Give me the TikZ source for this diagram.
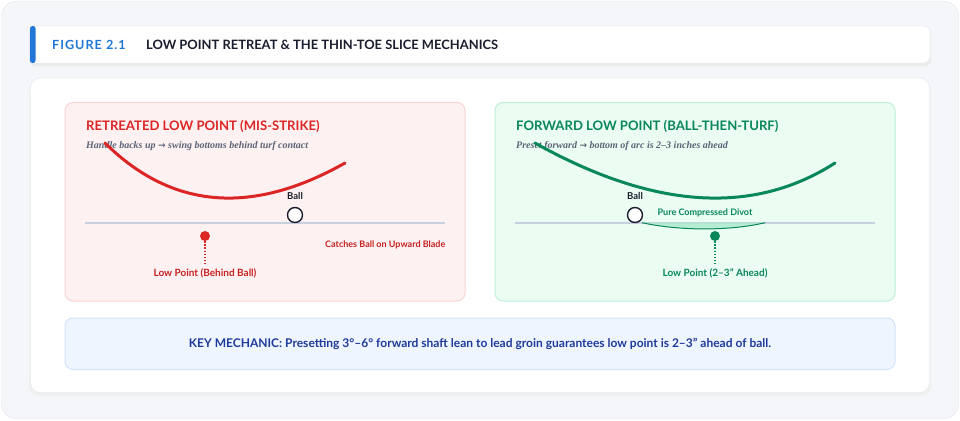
\documentclass[tikz,border=0pt]{standalone}
\usepackage{fontspec}
\setmainfont{Lato}
\newfontfamily\subfont{Liberation Serif}
\newfontfamily\arrowfont{DejaVu Sans}
\newfontfamily\figfont[LetterSpace=8]{Lato}
\newcommand{\subarrow}{{\arrowfont\fontsize{9}{12}\selectfont →}}
\definecolor{framebg}{HTML}{F5F6FA}
\definecolor{frameline}{HTML}{E2E5EC}
\definecolor{cardline}{HTML}{E3E7EE}
\definecolor{accent}{HTML}{1F77D6}
\definecolor{inkdark}{HTML}{1A1D2E}
\definecolor{redfill}{HTML}{FEF1F1}
\definecolor{redline}{HTML}{FAD4D4}
\definecolor{swingred}{HTML}{DC2626}
\definecolor{labelred}{HTML}{C62222}
\definecolor{greenfill}{HTML}{EBFCF3}
\definecolor{greenline}{HTML}{BEF0D7}
\definecolor{swinggreen}{HTML}{07875A}
\definecolor{divotfill}{HTML}{A9EACB}
\definecolor{groundgray}{HTML}{C8D0DF}
\definecolor{subgray}{HTML}{5B6478}
\definecolor{keyfill}{HTML}{EEF5FF}
\definecolor{keyline}{HTML}{D3E3FB}
\definecolor{keyblue}{HTML}{1E3A9A}
\begin{document}
\begin{tikzpicture}[x=1pt, y=-1pt,
  every node/.style={inner sep=0pt, font=\bfseries\fontsize{9}{11}\selectfont},
  paneltitle/.style={anchor=base west, font=\bfseries\fontsize{13.1}{15}\selectfont},
  subtitle/.style={anchor=base west, text=subgray, font=\subfont\bfseries\itshape\fontsize{10}{12}\selectfont},
  ground/.style={draw=groundgray, line width=2pt},
  ball/.style={circle, draw=inkdark, fill=white, line width=1.4pt, minimum size=15pt},
  lowdot/.style={circle, minimum size=10pt},
  marker/.style={line width=1.5pt, dash pattern=on 1.5pt off 1.6pt},
  swing/.style={line width=3pt, line cap=round}]
  \useasboundingbox (0,0) rectangle (960,420);

  % frame, header and card
  \draw[fill=framebg, draw=frameline, rounded corners=14pt] (1.5,1.5) rectangle (958.5,418.5);
  \fill[black!8, rounded corners=6pt] (29,28) rectangle (931,66);
  \draw[fill=white, draw=cardline, rounded corners=6pt] (30,26) rectangle (930,63);
  \fill[accent, rounded corners=2.5pt] (30,26) rectangle (35.5,63);
  \node[anchor=base west, text=accent, font=\figfont\bfseries\fontsize{12.6}{14}\selectfont] (fig) at (52,49.5) {FIGURE 2.1};
  \node[anchor=base west, text=inkdark, font=\bfseries\fontsize{12.9}{14}\selectfont] (figtitle) at (146,49.5) {LOW POINT RETREAT \& THE THIN-TOE SLICE MECHANICS};
  \fill[black!6, rounded corners=10pt] (29,80) rectangle (931,396);
  \draw[fill=white, draw=cardline, rounded corners=10pt] (30.5,78) rectangle (929.5,392.5);

  % retreated low point
  \draw[fill=redfill, draw=redline, rounded corners=8pt, line width=1pt] (65,102.5) rectangle (465,301);
  \node[paneltitle, text=swingred] (rtitle) at (86,130.5) {RETREATED LOW POINT (MIS-STRIKE)};
  \node[subtitle] (rsub) at (86,148) {Handle backs up \subarrow{} swing bottoms behind turf contact};
  \draw[ground] (85,222.7) -- (445,222.7);
  \draw[swing, swingred] (105,143) .. controls (171.7,209) and (251.7,215.7) .. (345,163);
  \node[ball] (rball) at (295,215) {};
  \node[anchor=base, text=inkdark, font=\bfseries\fontsize{9.5}{11}\selectfont] (rballtext) at (295,199) {Ball};
  \node[lowdot, fill=swingred] (rdot) at (205,236) {};
  \node[anchor=base, text=labelred, font=\bfseries\fontsize{10}{12}\selectfont] (rlow) at (205,276.5) {Low Point (Behind Ball)};
  \draw[marker, swingred] (rdot.south) -- ([yshift=5pt]rlow.north);
  \node[anchor=base east, text=labelred, font=\bfseries\fontsize{9}{11}\selectfont] (rcatch) at (445.5,247.5) {Catches Ball on Upward Blade};

  % forward low point
  \draw[fill=greenfill, draw=greenline, rounded corners=8pt, line width=1pt] (495,102.5) rectangle (895,301);
  \node[paneltitle, text=swinggreen] (gtitle) at (516,130.5) {FORWARD LOW POINT (BALL-THEN-TURF)};
  \node[subtitle] (gsub) at (516,148) {Preset forward \subarrow{} bottom of arc is 2–3 inches ahead};
  \draw[ground] (515,222.7) -- (875,222.7);
  \fill[divotfill, opacity=0.8] (642,222.7) .. controls (680,231) and (730,231) .. (765,222.7) -- cycle;
  \draw[swinggreen, line width=1pt] (642,222.7) .. controls (680,231) and (730,231) .. (765,222.7);
  \draw[swing, swinggreen] (535,143) .. controls (653,209) and (753,215.7) .. (835,163);
  \node[ball] (gball) at (635,215) {};
  \node[anchor=base, text=inkdark, font=\bfseries\fontsize{9.5}{11}\selectfont] (gballtext) at (635,199) {Ball};
  \node[anchor=base, text=swinggreen] (divot) at (705,215) {Pure Compressed Divot};
  \node[lowdot, fill=swinggreen] (gdot) at (715,236) {};
  \node[anchor=base, text=swinggreen, font=\bfseries\fontsize{10}{12}\selectfont] (glow) at (715,276.5) {Low Point (2–3" Ahead)};
  \draw[marker, swinggreen] (gdot.south) -- ([yshift=5pt]glow.north);

  % key mechanic
  \draw[fill=keyfill, draw=keyline, rounded corners=8pt, line width=1pt] (65,318) rectangle (895,369.5);
  \node[text=keyblue, font=\bfseries\fontsize{12}{14}\selectfont] (key) at (480,344) {KEY MECHANIC: Presetting 3°–6° forward shaft lean to lead groin guarantees low point is 2–3" ahead of ball.};
\end{tikzpicture}
\end{document}
